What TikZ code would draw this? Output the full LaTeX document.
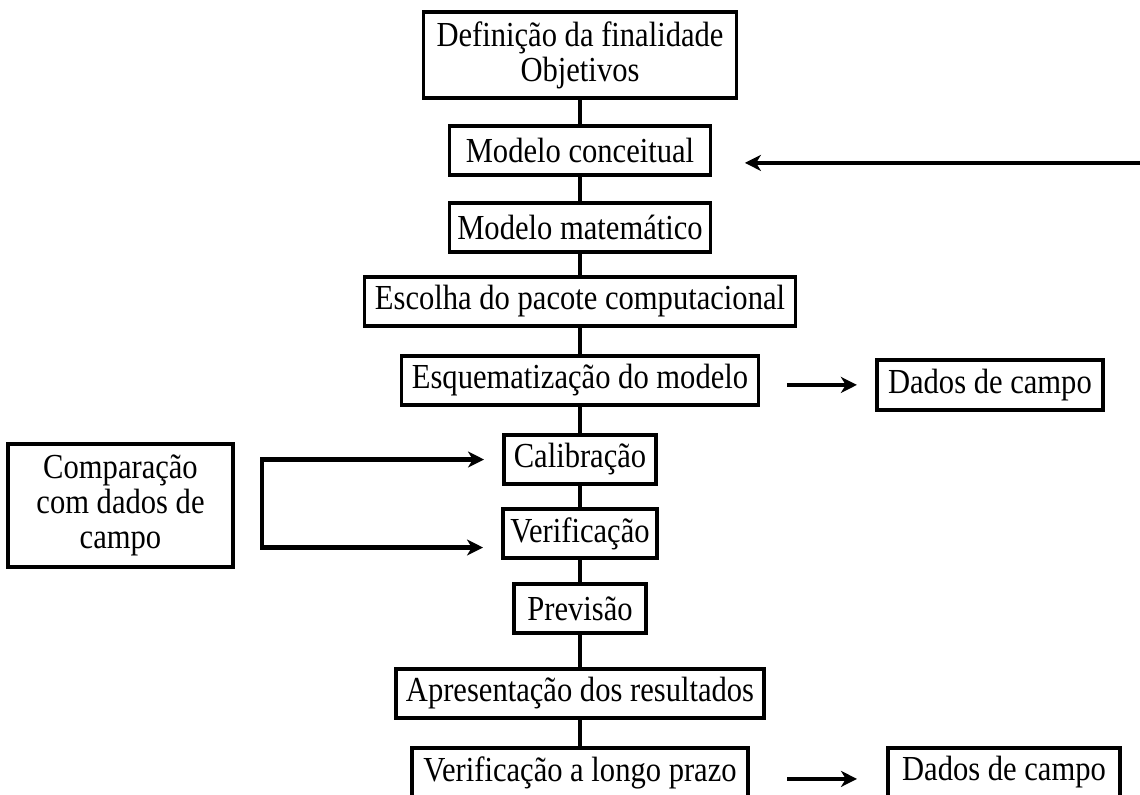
\documentclass[tikz,border=0pt]{standalone}
\usepackage{fontspec}
\setmainfont{Liberation Serif}[FakeStretch=0.87]
\usetikzlibrary{arrows.meta,positioning,calc}

\begin{document}
\begin{tikzpicture}[
  font=\fontsize{25}{25}\selectfont,
  >={Stealth[length=4mm, width=4mm, inset=1.2mm]},
  box/.style={rectangle, draw, line width=0.85mm, align=center, inner xsep=1mm,
              inner ysep=0pt, outer sep=0pt, minimum height=12.25mm},
  link/.style={draw, line width=0.8mm},
  flow/.style={->, draw, line width=1.1mm},
]
\useasboundingbox (0,0) rectangle (285mm,-198.5mm);

% ---- main chain (top -> bottom) ----
\node[box, minimum width=78.25mm, minimum height=21.5mm] (def) at (145mm,-13.75mm)
  {Definição da finalidade\\Objetivos};
\node[box, minimum width=65.25mm, below=7mm of def] (conc) {Modelo conceitual};
\node[box, minimum width=65.25mm, below=7mm of conc] (mat) {Modelo matemático};
\node[box, minimum width=107.75mm, below=6.25mm of mat] (pac) {Escolha do pacote computacional};
\node[box, minimum width=89.25mm, below=7.5mm of pac] (esq) {Esquematização do modelo};
\node[box, minimum width=38mm, below=7.5mm of esq] (calib) {Calibração};
\node[box, minimum width=38.5mm, below=6.25mm of calib] (verif) {Verificação};
\node[box, minimum width=33mm, below=6.5mm of verif] (prev) {Previsão};
\node[box, minimum width=92mm, below=9mm of prev] (apres) {Apresentação dos resultados};
\node[box, minimum width=84mm, below=7.5mm of apres] (longo) {Verificação a longo prazo};

% ---- field data boxes ----
\node[box, minimum width=56.5mm, minimum height=12.5mm, right=29.6mm of esq, yshift=-1.1mm] (dados1) {Dados de campo};
\node[box, minimum width=58mm, right=35mm of longo] (dados2) {Dados de campo};

% ---- comparison box (left) ----
\node[box, minimum width=56.25mm, minimum height=30.75mm, anchor=north east] (comp)
  at ($(calib.north west)+(-67.75mm,-2.25mm)$) {Comparação\\com dados de\\campo};

% ---- chain links ----
\draw[link] (def) -- (conc);
\draw[link] (conc) -- (mat);
\draw[link] (mat) -- (pac);
\draw[link] (pac) -- (esq);
\draw[link] (esq) -- (calib);
\draw[link] (calib) -- (verif);
\draw[link] (verif) -- (prev);
\draw[link] (prev) -- (apres);
\draw[link] (apres) -- (longo);

% ---- arrows to field data ----
\draw[flow, shorten <=7.1mm, shorten >=5mm] (esq.east |- dados1.west) -- (dados1.west);
\coordinate (lout) at ([yshift=-1.6mm]longo.east);
\coordinate (din) at ([yshift=-1.6mm]dados2.west);
\draw[flow, shorten <=9.75mm, shorten >=7.75mm] (lout) -- (din);

% ---- feedback into conceptual model ----
\coordinate (fb) at ($(conc.east)+(107.5mm,-3.1mm)$);
\draw[flow, shorten >=8.6mm] (fb) -- (fb -| conc.east);

% ---- comparison bracket ----
\coordinate (brk) at ($(comp.east)+(7.25mm,0)$);
\coordinate (vin) at ([yshift=-3.5mm]verif.west);
\draw[flow, <->, shorten <=5mm, shorten >=5mm]
  (calib.west) -- (calib.west -| brk) -- (vin -| brk) -- (vin);
\end{tikzpicture}
\end{document}
